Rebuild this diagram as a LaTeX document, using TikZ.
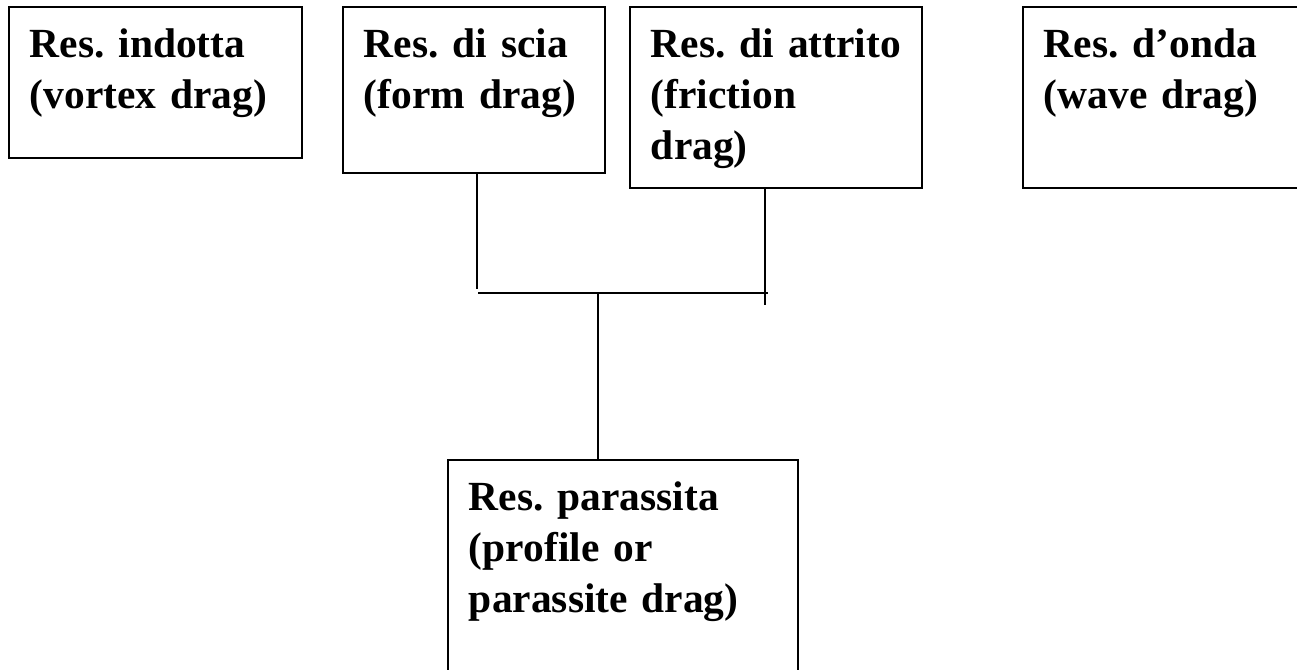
\documentclass[tikz,border=0pt]{standalone}
\usepackage{fontspec}
\setmainfont{Liberation Serif}
\frenchspacing
\begin{document}
\begin{tikzpicture}[x=0.02cm, y=-0.02cm,
  dragbox/.style={rectangle, draw=black, line width=1.1pt, anchor=north west, align=left,
    inner xsep=0.42cm, inner ysep=0pt, text height=1.02cm,
    execute at begin node={\hyphenpenalty=10000 \exhyphenpenalty=10000 \hbadness=10000 \hfuzz=20pt},
    font=\bfseries\fontsize{23.6}{29}\selectfont},
  link/.style={draw=black, line width=1.1pt}]
\clip (0,0) rectangle (1297,669);
\node[dragbox, text width=5.02cm, text depth=2.00cm] (indotta) at (8,6) {Res. indotta\\(vortex drag)};
\node[dragbox, text width=4.40cm, text depth=2.30cm] (scia) at (342,6) {Res. di scia\\(form drag)};
\node[dragbox, text width=5.00cm, text depth=2.60cm] (attrito) at (629,6) {Res.~di~attrito\\(friction\\drag)};
\node[dragbox, text width=5.16cm, text depth=2.60cm] (onda) at (1022,6) {Res. d’onda\\(wave drag)};
\node[dragbox, text width=6.16cm, text depth=3.98cm] (parassita) at (447,459) {Res. parassita\\(profile or\\parassite drag)};

\coordinate (jscia) at (477,289);
\coordinate (jattrito) at (765,305);
\coordinate (barl) at (478,293);
\coordinate (barr) at (768,293);
\coordinate (jmid) at (598,293);

\draw[link] (jscia |- scia.south) -- (jscia);
\draw[link] (jattrito |- attrito.south) -- (jattrito);
\draw[link] (barl) -- (barr);
\draw[link] (jmid) -- (jmid |- parassita.north);
\end{tikzpicture}
\end{document}
